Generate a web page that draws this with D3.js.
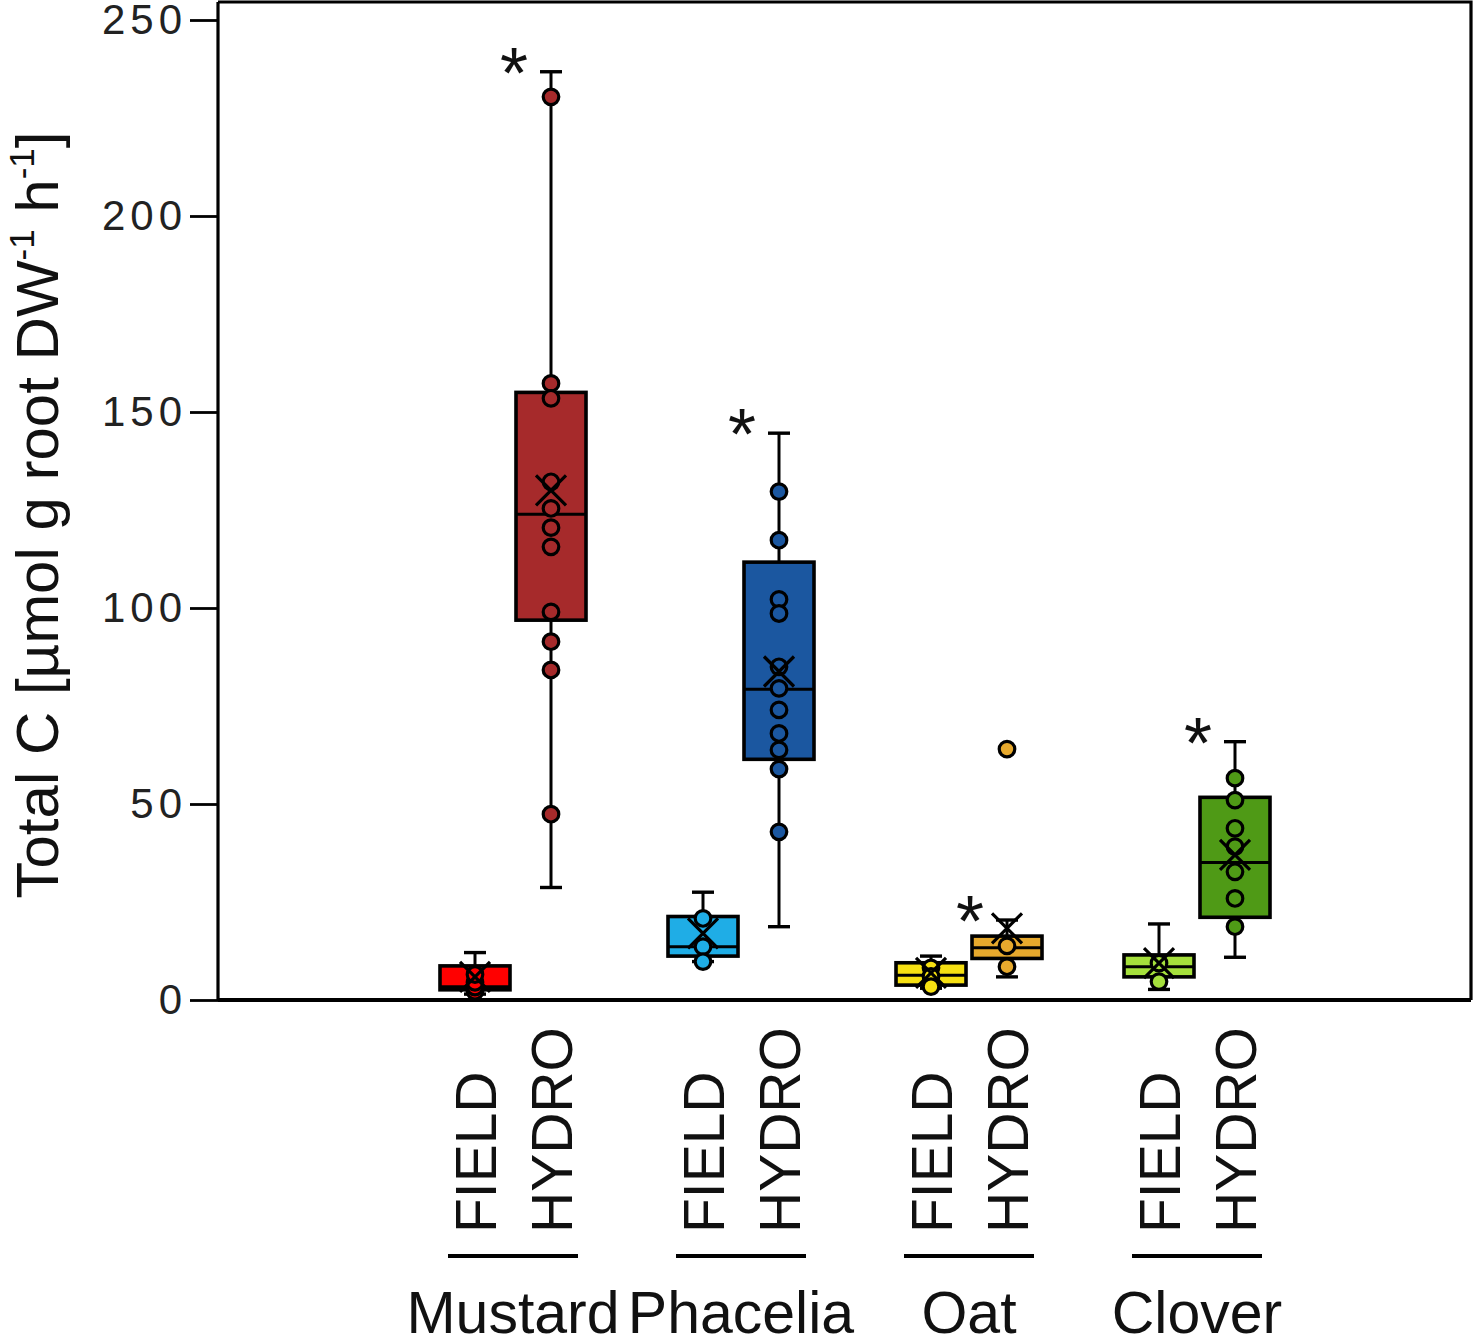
<!DOCTYPE html>
<html>
<head>
<meta charset="utf-8">
<script src="https://cdn.jsdelivr.net/npm/d3@7"></script>
<style>
  html, body { margin: 0; padding: 0; background: #fff; }
  svg { display: block; font-family: "Liberation Sans", Arial, sans-serif; }
</style>
</head>
<body>
<svg id="chart" width="1476" height="1336"></svg>
<script>
// ---- data ----
const groups = ["Mustard", "Phacelia", "Oat", "Clover"];
const conditions = ["FIELD", "HYDRO"];
// series order: Mustard FIELD, Mustard HYDRO, Phacelia FIELD, Phacelia HYDRO, Oat FIELD, Oat HYDRO, Clover FIELD, Clover HYDRO
const seriesGroup = ["Mustard", "Mustard", "Phacelia", "Phacelia", "Oat", "Oat", "Clover", "Clover"];
const seriesCond  = ["FIELD", "HYDRO", "FIELD", "HYDRO", "FIELD", "HYDRO", "FIELD", "HYDRO"];
const whiskerLow  = [1.5, 28.7, 9.8, 18.7, 3.0, 5.9, 2.7, 10.9];
const q1          = [2.6, 96.9, 11.2, 61.4, 3.8, 10.6, 5.9, 21.1];
const median      = [3.4, 123.9, 13.6, 79.3, 6.3, 13.3, 8.5, 35.1];
const q3          = [8.7, 155.0, 21.3, 111.7, 9.5, 16.3, 11.5, 51.7];
const whiskerHigh = [12.1, 236.8, 27.5, 144.6, 11.2, 20.4, 19.4, 65.9];
const means       = [5.9, 130.0, 17.0, 83.8, 6.9, 18.3, 9.4, 37.0];
const points = [
  [2.2, 3.3, 4.5, 6.5],
  [230.4, 157.3, 153.5, 132.2, 125.4, 120.5, 115.6, 99.0, 91.4, 84.2, 47.4],
  [20.8, 13.6, 9.8],
  [129.7, 117.3, 102.2, 98.6, 85.0, 79.5, 74.0, 68.0, 63.8, 58.9, 42.9],
  [8.2, 6.0, 3.4],
  [64.0, 13.8, 8.5],
  [9.4, 4.7],
  [56.6, 51.0, 43.8, 39.1, 32.7, 25.9, 18.7]
];
const significant = [false, true, false, true, false, true, false, true];
const yTicks = [0, 50, 100, 150, 200, 250];

// ---- styles ----
const fills = ["#ff0000", "#a62a2b", "#1fade6", "#1b57a0", "#f6e012", "#e7a92d", "#a5e03c", "#4f9a16"];

// ---- layout ----
const svg = d3.select("#chart");
const plot = { left: 218, right: 1471, top: 2, bottom: 1000 };

const y = d3.scaleLinear().domain([0, 250]).range([1000, 20]);
const xGroup = d3.scaleBand().domain(groups).range([399, 1311]).padding(0);
const xCond = d3.scalePoint().domain(conditions).range([-38, 38]);
const cx = i => xGroup(seriesGroup[i]) + xGroup.bandwidth() / 2 + xCond(seriesCond[i]);
const boxW = 70, capW = 22, xHalf = 15;

// frame (top and right borders)
svg.append("path")
  .attr("d", `M${plot.left},${plot.top}H${plot.right}V${plot.bottom}`)
  .attr("fill", "none").attr("stroke", "#000").attr("stroke-width", 3.2);

// x axis line
svg.append("line")
  .attr("x1", plot.left).attr("x2", plot.right)
  .attr("y1", y(0)).attr("y2", y(0))
  .attr("stroke", "#000").attr("stroke-width", 3.8);

// y axis
const yAxis = svg.append("g")
  .attr("transform", `translate(${plot.left},0)`)
  .call(d3.axisLeft(y).tickValues(yTicks).tickSize(28).tickPadding(3).tickFormat(d3.format("d")));
yAxis.select(".domain").remove();
yAxis.append("line").attr("x1", 0).attr("x2", 0).attr("y1", plot.top).attr("y2", plot.bottom)
  .attr("stroke", "#000").attr("stroke-width", 3.2);
yAxis.selectAll(".tick line").attr("stroke", "#000").attr("stroke-width", 2.8);
yAxis.selectAll(".tick text")
  .attr("fill", "#222").style("font-size", "42px").style("letter-spacing", "5px")
  .style("font-family", "'Liberation Sans', Arial, sans-serif");

// y axis title
const yTitle = svg.append("text")
  .attr("transform", "translate(58,515) rotate(-90)")
  .attr("text-anchor", "middle")
  .style("font-size", "60px").attr("fill", "#111");
yTitle.append("tspan").text("Total C [µmol g root DW");
yTitle.append("tspan").attr("dy", "-24").style("font-size", "35px").text("-1");
yTitle.append("tspan").attr("dy", "24").text(" h");
yTitle.append("tspan").attr("dy", "-24").style("font-size", "35px").text("-1");
yTitle.append("tspan").attr("dy", "24").text("]");

// boxes
const idx = d3.range(seriesGroup.length);
const g = svg.append("g");
idx.forEach(i => {
  const c = cx(i);
  const b = g.append("g");
  // whiskers
  b.append("line").attr("x1", c).attr("x2", c).attr("y1", y(whiskerHigh[i])).attr("y2", y(q3[i]))
    .attr("stroke", "#000").attr("stroke-width", 3);
  b.append("line").attr("x1", c).attr("x2", c).attr("y1", y(q1[i])).attr("y2", y(whiskerLow[i]))
    .attr("stroke", "#000").attr("stroke-width", 3);
  [whiskerHigh[i], whiskerLow[i]].forEach(v => {
    b.append("line").attr("x1", c - capW / 2).attr("x2", c + capW / 2).attr("y1", y(v)).attr("y2", y(v))
      .attr("stroke", "#000").attr("stroke-width", 3.4);
  });
  // box
  b.append("rect").attr("x", c - boxW / 2).attr("width", boxW)
    .attr("y", y(q3[i])).attr("height", y(q1[i]) - y(q3[i]))
    .attr("fill", fills[i]).attr("stroke", "#000").attr("stroke-width", 3.6);
  // median
  b.append("line").attr("x1", c - boxW / 2).attr("x2", c + boxW / 2).attr("y1", y(median[i])).attr("y2", y(median[i]))
    .attr("stroke", "#000").attr("stroke-width", 3);
  // points
  b.selectAll("circle").data(points[i]).join("circle")
    .attr("cx", c).attr("cy", d => y(d)).attr("r", 7.8)
    .attr("fill", fills[i]).attr("stroke", "#000").attr("stroke-width", 3.2);
  // mean marker X
  const my = y(means[i]);
  b.append("path")
    .attr("d", `M${c - xHalf},${my - xHalf}L${c + xHalf},${my + xHalf}M${c - xHalf},${my + xHalf}L${c + xHalf},${my - xHalf}`)
    .attr("stroke", "#000").attr("stroke-width", 3.2).attr("fill", "none");
  // significance star
  if (significant[i]) {
    g.append("text").attr("x", c - 37).attr("y", y(whiskerHigh[i]) - 16 + 42)
      .attr("text-anchor", "middle").style("font-size", "72px").attr("fill", "#111").text("*");
  }
});

// x category labels
idx.forEach(i => {
  svg.append("text")
    .attr("transform", `translate(${cx(i) + 21},1233) rotate(-90)`)
    .attr("text-anchor", "start").style("font-size", "57px").attr("fill", "#111")
    .text(seriesCond[i]);
});
groups.forEach(gr => {
  const c = xGroup(gr) + xGroup.bandwidth() / 2;
  svg.append("line").attr("x1", c - 65).attr("x2", c + 65).attr("y1", 1256).attr("y2", 1256)
    .attr("stroke", "#000").attr("stroke-width", 3.8);
  svg.append("text").attr("x", c).attr("y", 1333).attr("text-anchor", "middle")
    .style("font-size", "59px").attr("fill", "#111").text(gr);
});
</script>
</body>
</html>
